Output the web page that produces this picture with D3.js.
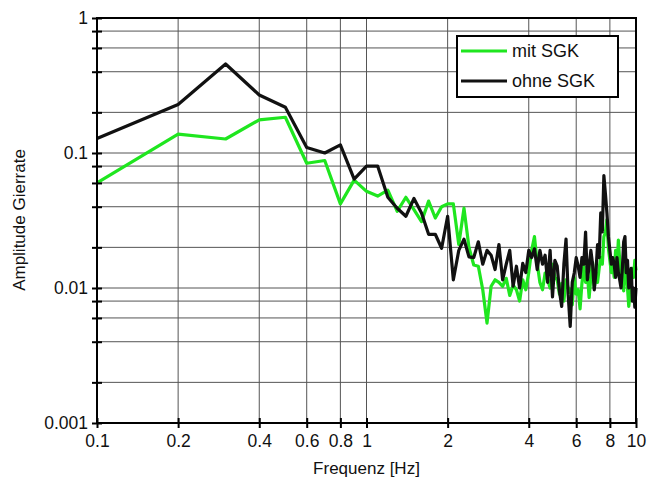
<!DOCTYPE html>
<html>
<head>
<meta charset="utf-8">
<script src="https://cdn.jsdelivr.net/npm/d3@7"></script>
<style>
  body { margin: 0; background: #fff; }
  text { font-family: "Liberation Sans", Arial, sans-serif; fill: #111; }
</style>
</head>
<body>
<div id="chart"></div>
<script>
// frequencies [Hz]
var freq = [0.1,0.2,0.3,0.4,0.5,0.6,0.7,0.8,0.9,1.0,
            1.1,1.2,1.3,1.4,1.5,1.6,1.7,1.8,1.9,2.0,
            2.1,2.2,2.3,2.4,2.5,2.6,2.7,2.8,2.9,3.0,
            3.1,3.2,3.3,3.4,3.5,3.6,3.7,3.8,3.9,4.0,
            4.1,4.2,4.3,4.4,4.5,4.6,4.7,4.8,4.9,5.0,
            5.1,5.2,5.3,5.4,5.5,5.6,5.7,5.8,5.9,6.0,
            6.1,6.2,6.3,6.4,6.5,6.6,6.7,6.8,6.9,7.0,
            7.1,7.2,7.3,7.4,7.5,7.6,7.7,7.8,7.9,8.0,
            8.1,8.2,8.3,8.4,8.5,8.6,8.7,8.8,8.9,9.0,
            9.1,9.2,9.3,9.4,9.5,9.6,9.7,9.8,9.9,10.0];

// mit SGK (green)
var mitSGK = [0.060,0.138,0.127,0.176,0.184,0.084,0.088,0.042,0.063,0.052,
              0.048,0.053,0.037,0.047,0.038,0.031,0.044,0.033,0.040,0.042,
              0.042,0.021,0.039,0.020,0.0148,0.0145,0.0097,0.0055,0.0103,0.0115,
              0.0110,0.0103,0.0118,0.0088,0.0105,0.0097,0.0080,0.0115,0.0097,0.0130,
              0.019,0.024,0.0152,0.0110,0.0097,0.0129,0.0115,0.0100,0.0150,0.0120,
              0.0115,0.0090,0.0108,0.0080,0.0115,0.0100,0.0097,0.0075,0.0120,0.0090,
              0.0097,0.0070,0.0108,0.0145,0.0110,0.0129,0.0085,0.0120,0.0155,0.0100,
              0.0129,0.0110,0.0140,0.0168,0.0150,0.024,0.026,0.032,0.0196,0.0160,
              0.0130,0.0152,0.0120,0.019,0.0140,0.0226,0.0160,0.0112,0.0130,0.0095,
              0.0152,0.0130,0.0100,0.0073,0.0090,0.0115,0.0140,0.0120,0.0160,0.0135];

// ohne SGK (black)
var ohneSGK = [0.128,0.229,0.456,0.269,0.218,0.110,0.100,0.115,0.064,0.080,
               0.080,0.047,0.039,0.034,0.046,0.036,0.025,0.025,0.0197,0.034,
               0.0115,0.019,0.023,0.017,0.0168,0.022,0.0150,0.019,0.0175,0.0137,
               0.021,0.0115,0.0150,0.019,0.0103,0.0145,0.0100,0.0152,0.0130,0.019,
               0.0168,0.0195,0.0137,0.019,0.0150,0.0175,0.0110,0.0190,0.0086,0.0160,
               0.0145,0.0095,0.0073,0.0150,0.023,0.0090,0.0052,0.0110,0.0129,0.0168,
               0.0145,0.0120,0.0168,0.0150,0.026,0.0115,0.0145,0.0190,0.0150,0.0097,
               0.0130,0.021,0.0168,0.036,0.026,0.068,0.050,0.036,0.024,0.019,
               0.0150,0.0168,0.0150,0.0120,0.0168,0.0130,0.0115,0.0100,0.0140,0.022,
               0.024,0.0130,0.0160,0.0100,0.0120,0.0140,0.0080,0.0100,0.0072,0.0100];

var xTicks = [0.1,0.2,0.4,0.6,0.8,1,2,4,6,8,10];
var yTicks = [0.001,0.002,0.004,0.006,0.008,0.01,0.02,0.04,0.06,0.08,
              0.1,0.2,0.4,0.6,0.8,1];
var yLabels = [0.001,0.01,0.1,1];
var seriesNames = ["mit SGK","ohne SGK"];
var seriesColors = ["#1fe61f","#111111"];

var W = 655, H = 490;
var pL = 97, pR = 636, pT = 18, pB = 423;

var svg = d3.select("#chart").append("svg")
            .attr("width", W)
            .attr("height", H);

var x = d3.scaleLog().domain([0.1,10]).range([pL,pR]);
var y = d3.scaleLog().domain([0.001,1]).range([pB,pT]);

// grid
svg.append("g").selectAll("line")
    .data(xTicks.slice(1,-1))
    .enter().append("line")
    .attr("x1", function(d){ return x(d); })
    .attr("x2", function(d){ return x(d); })
    .attr("y1", pT).attr("y2", pB)
    .attr("stroke", "#555").attr("stroke-width", 1);

svg.append("g").selectAll("line")
    .data(yTicks.slice(1,-1))
    .enter().append("line")
    .attr("y1", function(d){ return y(d); })
    .attr("y2", function(d){ return y(d); })
    .attr("x1", pL).attr("x2", pR)
    .attr("stroke", "#555").attr("stroke-width", 1);

// lines
var line = d3.line()
    .x(function(d){ return x(d[0]); })
    .y(function(d){ return y(d[1]); });

[mitSGK, ohneSGK].forEach(function(s, k){
    svg.append("path")
        .datum(freq.map(function(f,i){ return [f, s[i]]; }))
        .attr("d", line)
        .attr("fill", "none")
        .attr("stroke", seriesColors[k])
        .attr("stroke-width", 3.2)
        .attr("stroke-linejoin", "round");
});

// frame
svg.append("rect")
    .attr("x", pL).attr("y", pT)
    .attr("width", pR-pL).attr("height", pB-pT)
    .attr("fill", "none")
    .attr("stroke", "#000")
    .attr("stroke-width", 2);

// axes
var xAxis = svg.append("g")
    .attr("transform", "translate(0," + pB + ")")
    .call(d3.axisBottom(x).tickValues(xTicks).tickFormat(d3.format("~g")).tickSize(5).tickPadding(7));
xAxis.select(".domain").remove();
xAxis.selectAll(".tick line").attr("y1", -5).attr("y2", 5).attr("stroke-width", 2);
xAxis.selectAll("text").attr("font-size", 17.5).attr("fill", "#111")
    .attr("font-family", "Liberation Sans, Arial, sans-serif");

var yAxis = svg.append("g")
    .attr("transform", "translate(" + pL + ",0)")
    .call(d3.axisLeft(y).tickValues(yTicks)
        .tickFormat(function(d){ return yLabels.indexOf(d) >= 0 ? d3.format("~g")(d) : ""; })
        .tickSize(5).tickPadding(4));
yAxis.select(".domain").remove();
yAxis.selectAll(".tick line").attr("x1", -5).attr("x2", 5).attr("stroke-width", 2);
yAxis.selectAll("text").attr("font-size", 17.5).attr("fill", "#111")
    .attr("font-family", "Liberation Sans, Arial, sans-serif");

// axis titles
svg.append("text")
    .attr("x", (pL+pR)/2).attr("y", 474)
    .attr("text-anchor", "middle")
    .attr("font-size", 17)
    .text("Frequenz [Hz]");

svg.append("text")
    .attr("transform", "translate(25," + 220 + ") rotate(-90)")
    .attr("text-anchor", "middle")
    .attr("font-size", 17)
    .text("Amplitude Gierrate");

// legend
var lg = svg.append("g");
lg.append("rect")
    .attr("x", 457).attr("y", 36)
    .attr("width", 161).attr("height", 61)
    .attr("fill", "#fff").attr("stroke", "#000").attr("stroke-width", 2);
seriesNames.forEach(function(n, k){
    var ly = 51 + k*30;
    lg.append("line")
        .attr("x1", 461).attr("x2", 507)
        .attr("y1", ly).attr("y2", ly)
        .attr("stroke", seriesColors[k]).attr("stroke-width", 3.2);
    lg.append("text")
        .attr("x", 512).attr("y", ly + 6)
        .attr("font-size", 18)
        .text(n);
});
</script>
</body>
</html>
